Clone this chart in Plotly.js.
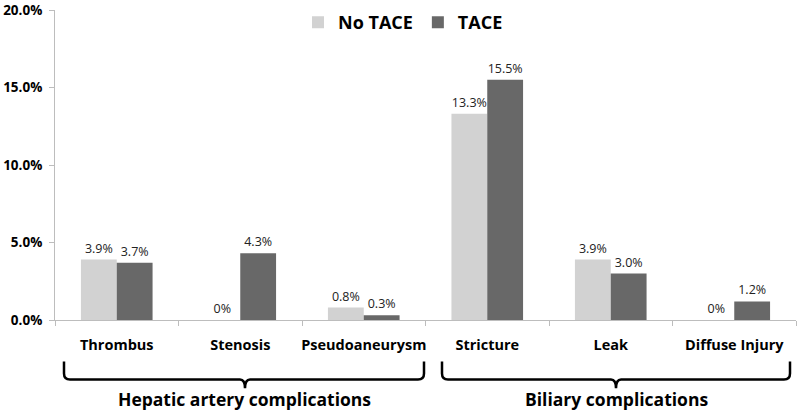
<!DOCTYPE html>
<html>
<head>
<meta charset="utf-8">
<script src="https://cdn.plot.ly/plotly-3.0.1.min.js"></script>
<style>html,body{margin:0;padding:0;background:#fff;}#chart{width:800px;height:411px;}</style>
</head>
<body>
<div id="chart"></div>
<script>
var categories = ['Thrombus', 'Stenosis', 'Pseudoaneurysm', 'Stricture', 'Leak', 'Diffuse Injury'];
var noTace = [3.9, 0, 0.8, 13.3, 3.9, 0];
var tace = [3.7, 4.3, 0.3, 15.5, 3.0, 1.2];
var seriesNames = ['No TACE', 'TACE'];
var groupLabels = ['Hepatic artery complications', 'Biliary complications'];
var yTickVals = [0, 5, 10, 15, 20];
var yTickText = ['0.0%', '5.0%', '10.0%', '15.0%', '20.0%'];

function lbl(arr) { return arr.map(function (v) { return v === 0 ? '0%' : v.toFixed(1) + '%'; }); }

var textFont = {family: 'Open Sans, sans-serif', size: 12.5, color: '#222'};
var traces = [
  {type: 'bar', name: seriesNames[0], x: categories, y: noTace, text: lbl(noTace), textposition: 'outside',
   textfont: textFont, cliponaxis: false, marker: {color: '#d2d2d2'}, hoverinfo: 'none'},
  {type: 'bar', name: seriesNames[1], x: categories, y: tace, text: lbl(tace), textposition: 'outside',
   textfont: textFont, cliponaxis: false, marker: {color: '#686868'}, hoverinfo: 'none'}
];

// layout geometry
var L = 55, R = 4, T = 7, B = 91, W = 800, H = 411;
var pw = W - L - R, ph = H - T - B;
function px(x) { return (x - L) / pw; }
function py(y) { return (H - B - y) / ph; }
function brace(x0, x1, xm, yTop, yMid, yTip) {
  var r = 6;
  return 'M ' + px(x0) + ',' + py(yTop) +
    ' L ' + px(x0) + ',' + py(yMid - r) +
    ' Q ' + px(x0) + ',' + py(yMid) + ' ' + px(x0 + r) + ',' + py(yMid) +
    ' L ' + px(xm - 5) + ',' + py(yMid) +
    ' Q ' + px(xm) + ',' + py(yMid) + ' ' + px(xm) + ',' + py(yTip) +
    ' Q ' + px(xm) + ',' + py(yMid) + ' ' + px(xm + 5) + ',' + py(yMid) +
    ' L ' + px(x1 - r) + ',' + py(yMid) +
    ' Q ' + px(x1) + ',' + py(yMid) + ' ' + px(x1) + ',' + py(yMid - r) +
    ' L ' + px(x1) + ',' + py(yTop);
}

var boldFont = function (s) { return {family: 'Open Sans, sans-serif', size: s, color: '#000', weight: 'bold'}; };

var layout = {
  width: W, height: H,
  margin: {l: L, r: R, t: T, b: B},
  paper_bgcolor: '#fff', plot_bgcolor: '#fff',
  barmode: 'group', bargap: 0.42, bargroupgap: 0,
  showlegend: true,
  legend: {orientation: 'h', x: px(403), xanchor: 'center', y: py(1), yanchor: 'top',
    font: boldFont(18), itemwidth: 30, traceorder: 'normal', bgcolor: 'rgba(0,0,0,0)'},
  xaxis: {type: 'category', showline: true, linecolor: '#bdbdbd', linewidth: 1,
    ticks: 'outside', tickcolor: '#bdbdbd', ticklen: 5, tickson: 'boundaries',
    ticklabelstandoff: 12, tickangle: 0, automargin: false,
    tickfont: boldFont(14.5),
    showgrid: false, zeroline: false, fixedrange: true},
  yaxis: {range: [0, 20], tickvals: yTickVals, ticktext: yTickText,
    showline: true, linecolor: '#bdbdbd', linewidth: 1, automargin: false,
    ticks: 'outside', tickcolor: '#bdbdbd', ticklen: 5, ticklabelstandoff: 4,
    ticklabeloverflow: 'allow',
    tickfont: boldFont(13.5),
    showgrid: false, zeroline: false, fixedrange: true},
  shapes: [
    {type: 'path', xref: 'paper', yref: 'paper', path: brace(64, 424, 245, 362, 380, 389), line: {color: '#000', width: 2.5}},
    {type: 'path', xref: 'paper', yref: 'paper', path: brace(442, 790, 616, 362, 380, 389), line: {color: '#000', width: 2.5}}
  ],
  annotations: [
    {xref: 'paper', yref: 'paper', x: px(245), y: py(400), text: groupLabels[0], showarrow: false,
     xanchor: 'center', yanchor: 'middle', font: boldFont(17.5)},
    {xref: 'paper', yref: 'paper', x: px(616), y: py(400), text: groupLabels[1], showarrow: false,
     xanchor: 'center', yanchor: 'middle', font: boldFont(17.5)}
  ]
};

Plotly.newPlot('chart', traces, layout, {displayModeBar: false, staticPlot: true});
</script>
</body>
</html>
